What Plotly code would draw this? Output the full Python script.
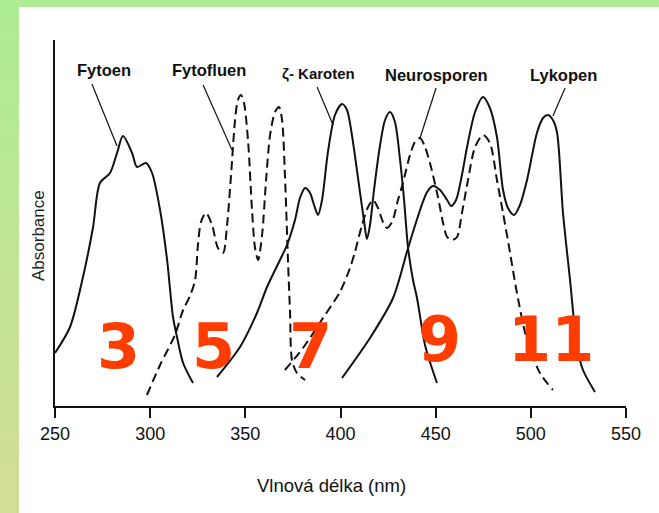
import plotly.graph_objects as go

# ---------------- data (wavelength nm, relative absorbance) ----------------
fytoen_nm = [250.0, 257.9, 264.7, 270.0, 273.6, 278.9, 282.6, 285.7, 290.5, 293.1,
             297.8, 301.0, 305.2, 308.9, 312.0, 314.1, 317.3, 322.5]
fytoen_abs = [0.53, 0.79, 1.29, 1.79, 2.23, 2.33, 2.53, 2.70, 2.53, 2.39,
              2.43, 2.33, 1.96, 1.46, 0.89, 0.69, 0.43, 0.23]

fytofluen_nm = [298.3, 305.2, 313.0, 317.3, 320.9, 323.6, 325.1, 326.7, 329.3, 332.5,
                335.6, 338.3, 340.4, 342.5, 344.6, 346.1, 347.7, 349.3, 351.4, 353.5,
                355.1, 356.7, 358.8, 360.9, 363.0, 365.6, 367.7, 369.3, 370.8, 372.4,
                373.5, 374.5, 377.1, 381.4]
fytofluen_abs = [0.11, 0.41, 0.71, 0.96, 1.10, 1.26, 1.61, 1.84, 1.93, 1.81,
                 1.58, 1.53, 1.81, 2.31, 2.86, 3.06, 3.11, 3.03, 2.66, 1.96,
                 1.58, 1.46, 1.71, 2.26, 2.71, 2.94, 2.99, 2.86, 2.31, 1.46,
                 0.93, 0.46, 0.33, 0.26]

karoten_nm = [335.1, 347.2, 356.1, 361.4, 368.2, 371.9, 376.1, 378.7, 381.4, 384.0,
              386.1, 388.2, 390.3, 393.4, 397.1, 400.8, 403.4, 406.0, 409.2, 412.3,
              413.9, 415.5, 417.6, 420.8, 423.4, 426.0, 428.6, 431.3, 433.4, 435.5,
              438.1, 440.2, 444.4, 447.5, 450.7]
karoten_abs = [0.29, 0.59, 0.93, 1.19, 1.46, 1.61, 1.86, 2.08, 2.18, 2.13,
               2.01, 1.91, 2.06, 2.54, 2.91, 3.02, 2.96, 2.71, 2.28, 1.86,
               1.67, 1.81, 2.16, 2.61, 2.86, 2.94, 2.84, 2.46, 2.06, 1.58,
               1.26, 1.08, 0.61, 0.41, 0.23]

neuro_nm = [370.8, 380.3, 390.8, 399.7, 405.0, 407.6, 411.3, 414.5, 417.1, 419.7,
            422.3, 424.4, 427.1, 430.2, 432.8, 436.5, 439.1, 441.8, 444.4, 447.0,
            451.2, 453.9, 456.0, 458.6, 461.2, 463.8, 467.0, 470.7, 474.9, 478.5,
            482.2, 485.4, 489.1, 492.7, 498.0, 504.8, 511.6]
neuro_abs = [0.36, 0.58, 0.88, 1.14, 1.38, 1.54, 1.81, 1.99, 2.06, 1.98,
             1.84, 1.78, 1.84, 2.06, 2.23, 2.51, 2.64, 2.68, 2.59, 2.43,
             2.09, 1.83, 1.69, 1.66, 1.69, 1.93, 2.26, 2.59, 2.71, 2.63,
             2.26, 1.93, 1.53, 1.13, 0.66, 0.33, 0.16]

lyko_nm = [400.8, 415.5, 427.6, 435.5, 441.8, 445.5, 448.6, 452.3, 456.0, 458.1,
           460.7, 463.8, 466.5, 470.7, 474.9, 478.5, 482.2, 485.4, 488.0, 491.2,
           494.3, 498.0, 503.2, 506.4, 509.0, 511.6, 513.8, 516.9, 520.6, 524.3,
           527.4, 533.7]
lyko_abs = [0.28, 0.68, 1.08, 1.58, 1.96, 2.14, 2.20, 2.16, 2.06, 2.00,
            2.06, 2.31, 2.59, 2.94, 3.09, 2.98, 2.69, 2.16, 1.98, 1.91,
            2.01, 2.26, 2.73, 2.88, 2.91, 2.86, 2.73, 1.93, 1.26, 0.59,
            0.36, 0.14]

# label text, label anchor (nm, abs), leader line start/end (nm, abs)
labels = ["Fytoen", "Fytofluen", "ζ- Karoten", "Neurosporen", "Lykopen"]
label_nm = [275.5, 330.9, 388.4, 450.4, 516.9]
label_abs = [3.36, 3.36, 3.325, 3.31, 3.31]
label_size = [16.5, 16.5, 15, 16.5, 16.5]
leader_nm0 = [269.4, 327.8, 387.7, 450.2, 518.0]
leader_abs0 = [3.22, 3.21, 3.19, 3.18, 3.18]
leader_nm1 = [282.6, 343.0, 396.1, 441.8, 511.6]
leader_abs1 = [2.60, 2.56, 2.81, 2.68, 2.90]

# number of conjugated double bonds
bond_labels = ["3", "5", "7", "9", "11"]
bond_nm = [283.1, 333.5, 384.0, 451.8, 510.6]
bond_abs = [0.60, 0.60, 0.60, 0.67, 0.67]

x_ticks = [250, 300, 350, 400, 450, 500, 550]

# ---------------- figure ----------------
fig = go.Figure()

DASH = "9px,5px"
series = [
    (fytoen_nm, fytoen_abs, "solid"),
    (fytofluen_nm, fytofluen_abs, DASH),
    (karoten_nm, karoten_abs, "solid"),
    (neuro_nm, neuro_abs, DASH),
    (lyko_nm, lyko_abs, "solid"),
]
for xs, ys, dash in series:
    fig.add_trace(go.Scatter(
        x=xs, y=ys, mode="lines",
        line=dict(color="#111111", width=2, dash=dash, shape="spline", smoothing=0.8),
        showlegend=False, hoverinfo="skip"))

for i in range(len(labels)):
    fig.add_trace(go.Scatter(
        x=[leader_nm0[i], leader_nm1[i]], y=[leader_abs0[i], leader_abs1[i]],
        mode="lines", line=dict(color="#111111", width=1.2),
        showlegend=False, hoverinfo="skip"))

SANS = "Liberation Sans, Arial, sans-serif"
annotations = []
for i, t in enumerate(labels):
    annotations.append(dict(
        x=label_nm[i], y=label_abs[i], xref="x", yref="y", text="<b>%s</b>" % t, showarrow=False,
        xanchor="center", yanchor="middle",
        font=dict(family=SANS, size=label_size[i], color="#111111")))
for i, t in enumerate(bond_labels):
    annotations.append(dict(
        x=bond_nm[i], y=bond_abs[i], xref="x", yref="y", text="<b>%s</b>" % t, showarrow=False,
        xanchor="center", yanchor="middle",
        font=dict(family="DejaVu Sans, Verdana, sans-serif", size=62, color="#ff3d00")))

annotations.append(dict(
    x=0.485, y=-0.216, xref="paper", yref="paper", text="Vlnová délka (nm)",
    showarrow=False, xanchor="center", yanchor="middle",
    font=dict(family=SANS, size=18.5, color="#111111")))
annotations.append(dict(
    x=-0.028, y=0.4645, xref="paper", yref="paper", text="Absorbance", textangle=-90,
    showarrow=False, xanchor="center", yanchor="middle",
    font=dict(family=SANS, size=17, color="#222222")))

# green frame (top strip + vertical gradient on the left)
PW, PH = 571.0, 366.0
ML, MT = 55.0, 40.0
def px_x(px):
    return (px - ML) / PW
def px_y(py):
    return (406.0 - py) / PH

shapes = []
shapes.append(dict(type="rect", xref="paper", yref="paper",
                   x0=px_x(0), x1=px_x(659), y0=px_y(7), y1=px_y(0),
                   fillcolor="#adeb94", line=dict(width=0), layer="below"))
c0 = (173, 235, 148)
c1 = (211, 221, 151)
n = 30
for k in range(n):
    t = k / (n - 1)
    col = "rgb(%d,%d,%d)" % tuple(round(c0[j] + (c1[j] - c0[j]) * t) for j in range(3))
    ya = k * 513.0 / n
    yb = (k + 1) * 513.0 / n + 0.6
    shapes.append(dict(type="rect", xref="paper", yref="paper",
                       x0=px_x(0), x1=px_x(19), y0=px_y(yb), y1=px_y(ya),
                       fillcolor=col, line=dict(width=0), layer="below"))

fig.update_layout(
    width=659, height=513,
    margin=dict(l=55, r=33, t=40, b=107),
    paper_bgcolor="white", plot_bgcolor="white",
    showlegend=False,
    annotations=annotations,
    shapes=shapes,
    xaxis=dict(range=[250, 550], tickvals=x_ticks, ticktext=[str(v) for v in x_ticks],
               showgrid=False, zeroline=False, showline=True, linecolor="#111111", linewidth=2,
               ticks="outside", ticklen=10, tickwidth=2, tickcolor="#111111",
               tickfont=dict(family=SANS, size=18, color="#111111")),
    yaxis=dict(range=[0, 3.66], showgrid=False, zeroline=False, showline=True,
               linecolor="#111111", linewidth=2, showticklabels=False, ticks=""),
)

fig.write_html("out.html", config={"displayModeBar": False, "staticPlot": True},
               post_script="document.body.style.margin='0';document.body.style.padding='0';document.body.style.overflow='hidden';")
